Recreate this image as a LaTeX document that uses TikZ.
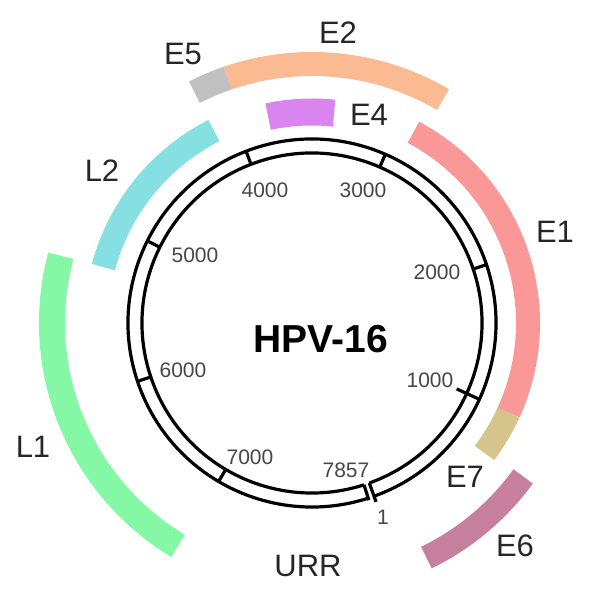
\documentclass[tikz,border=0pt]{standalone}
\usepackage{fontspec}
\setmainfont{Liberation Sans}
\usepackage{xcolor}

\definecolor{eone}{RGB}{250,152,152}
\definecolor{etwo}{RGB}{251,186,146}
\definecolor{efour}{RGB}{218,132,240}
\definecolor{efive}{RGB}{192,192,192}
\definecolor{esix}{RGB}{198,128,158}
\definecolor{eseven}{RGB}{214,196,138}
\definecolor{lone}{RGB}{132,248,164}
\definecolor{ltwo}{RGB}{134,224,226}
\definecolor{ticktext}{RGB}{70,70,70}

\tikzset{
  ring/.style={line width=3.2pt, black},
  band/.style={line width=24pt},
  genelabel/.style={text=black!85, font=\fontsize{31}{34}\selectfont},
  poslabel/.style={text=ticktext, font=\fontsize{21}{24}\selectfont}
}

\begin{document}
\begin{tikzpicture}[x=1pt,y=1pt]
    \useasboundingbox (-312,-273) rectangle (288,323);

    % inner band ring
    \draw[band, eone] (-24.5:216) arc[start angle=-24.5, end angle=62, radius=216];
    \draw[band, eseven] (-37:216) arc[start angle=-37, end angle=-24.5, radius=216];
    \draw[band, efour, line width=27pt] (84:211) arc[start angle=84, end angle=102, radius=211];
    \draw[band, ltwo] (117:216) arc[start angle=117, end angle=165, radius=216];

    % outer band ring
    \draw[band, etwo] (59.6:259) arc[start angle=59.6, end angle=109, radius=259];
    \draw[band, efive] (109:259) arc[start angle=109, end angle=117, radius=259];
    \draw[band, lone, line width=26pt] (165:260) arc[start angle=165, end angle=239, radius=260];
    \draw[band, esix] (-64:261) arc[start angle=-64, end angle=-36, radius=261];

    % genome
    \draw[ring] (-70.3:170) arc[start angle=-70.3, end angle=287.8, radius=170];
    \draw[ring] (-70.3:184) arc[start angle=-70.3, end angle=287.8, radius=184];
    \draw[ring] (-70.3:170) -- (-70.3:190);
    \draw[ring] (287.8:170) -- (287.8:186);

    \draw[ring] (-24.5:159) -- (-24.5:184);
    \foreach \ang in {18.5, 66.5, 111, 153.5, 198.5, 239.5}
    \draw[ring] (\ang:170) -- (\ang:184);

    \node (title) at (9,-16) {\fontsize{39}{42}\selectfont\bfseries HPV-16};

    \node[poslabel] (p1000) at (118,-57) {1000};
    \node[poslabel] (p2000) at (125,51) {2000};
    \node[poslabel] (p3000) at (51,133) {3000};
    \node[poslabel] (p4000) at (-47,133) {4000};
    \node[poslabel] (p5000) at (-117,68) {5000};
    \node[poslabel] (p6000) at (-129,-47) {6000};
    \node[poslabel] (p7000) at (-62,-134) {7000};
    \node[poslabel] (p7857) at (34,-147) {7857};
    \node[poslabel] (p1) at (71,-194) {1};

    \node[genelabel] (lE1) at (243,91) {E1};
    \node[genelabel] (lE2) at (26,290) {E2};
    \node[genelabel] (lE4) at (57,208) {E4};
    \node[genelabel] (lE5) at (-129,269) {E5};
    \node[genelabel] (lE6) at (203,-223) {E6};
    \node[genelabel] (lE7) at (153,-154) {E7};
    \node[genelabel] (lL1) at (-279,-124) {L1};
    \node[genelabel] (lL2) at (-210,152) {L2};
    \node[genelabel] (lURR) at (-4,-243) {URR};
\end{tikzpicture}
\end{document}
